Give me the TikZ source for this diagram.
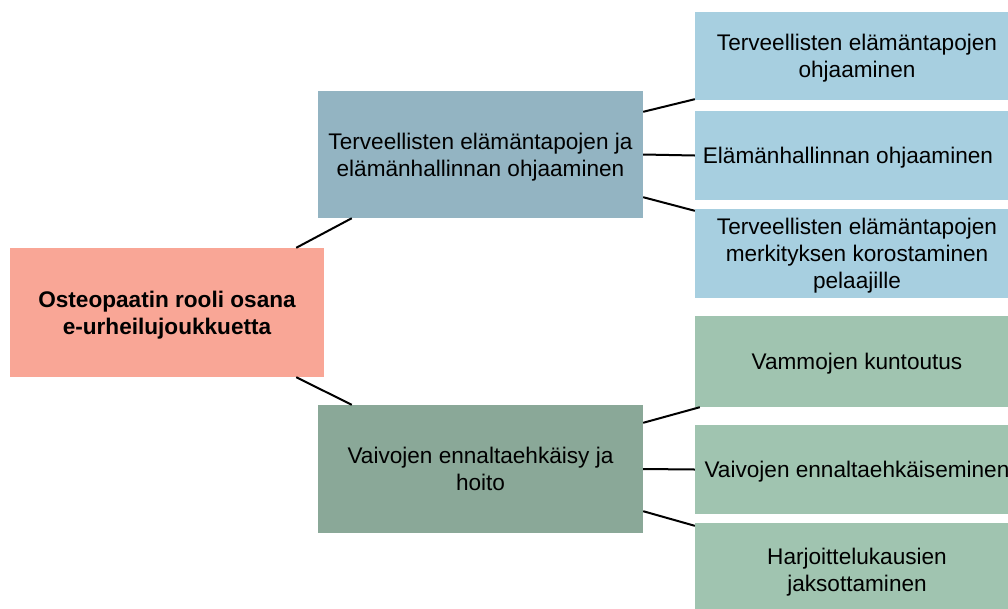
\documentclass[tikz,border=0pt]{standalone}
\usepackage{fontspec}
\setmainfont{Liberation Sans}
\usetikzlibrary{calc}
\definecolor{rootc}{HTML}{F9A696}
\definecolor{bluemid}{HTML}{93B4C2}
\definecolor{blueright}{HTML}{A7CFE0}
\definecolor{greenmid}{HTML}{8AA898}
\definecolor{greenright}{HTML}{A0C4B0}
\begin{document}
\begin{tikzpicture}[x=1pt,y=-1pt,
  box/.style={rectangle, draw=none, inner sep=0pt, align=center, text depth=0pt,
    font=\fontsize{22.6}{27}\selectfont, text=black},
  rootbox/.style={box, fill=rootc, minimum width=314pt, minimum height=129pt,
    font=\fontsize{22.6}{27}\selectfont\bfseries},
  midbox/.style={box, minimum width=325pt, minimum height=127pt},
  rightbox/.style={box, minimum width=324pt},
  conn/.style={draw=black, line width=2pt}]
\useasboundingbox (0,0) rectangle (1008,608);
\clip (0,0) rectangle (1008,608);
\fill[white] (0,0) rectangle (1008,608);

\node[rootbox] (root) at (167,312.5) {Osteopaatin rooli osana\\e-urheilujoukkuetta};

\node[midbox, fill=bluemid] (midA) at (480.5,154.5) {Terveellisten elämäntapojen ja\\elämänhallinnan ohjaaminen};
\node[midbox, fill=greenmid, minimum height=128pt] (midB) at (480.5,469) {Vaivojen ennaltaehkäisy ja\\hoito};

\node[rightbox, fill=blueright, minimum height=88pt] (r1) at (857,56) {Terveellisten elämäntapojen\\ohjaaminen};
\node[rightbox, fill=blueright, minimum height=89pt] (r2) at (857,155.5) {Elämänhallinnan ohjaaminen\hspace*{18pt}};
\node[rightbox, fill=blueright, minimum height=89pt] (r3) at (857,253.5) {Terveellisten elämäntapojen\\merkityksen korostaminen\\pelaajille};

\node[rightbox, fill=greenright, minimum height=91pt] (g1) at (857,361.5) {Vammojen kuntoutus};
\node[rightbox, fill=greenright, minimum height=89pt] (g2) at (857,469.5) {Vaivojen ennaltaehkäiseminen};
\node[rightbox, fill=greenright, minimum height=93pt] (g3) at (857,569.5) {Harjoittelukausien\\jaksottaminen};

\draw[conn] ($(root.north east)+(-28,0)$) -- ($(midA.south west)+(34,0)$);
\draw[conn] ($(root.south east)+(-28,0)$) -- ($(midB.north west)+(34,0)$);

\draw[conn] ($(midA.north east)+(0,21)$) -- ($(r1.south west)+(0,-1)$);
\draw[conn] (midA.east) -- (r2.west);
\draw[conn] ($(midA.south east)+(0,-21)$) -- ($(r3.north west)+(0,2)$);

\draw[conn] ($(midB.north east)+(0,18)$) -- ($(g1.south west)+(5,0)$);
\draw[conn] (midB.east) -- (g2.west);
\draw[conn] ($(midB.south east)+(0,-22)$) -- ($(g3.north west)+(0,3)$);
\end{tikzpicture}
\end{document}
